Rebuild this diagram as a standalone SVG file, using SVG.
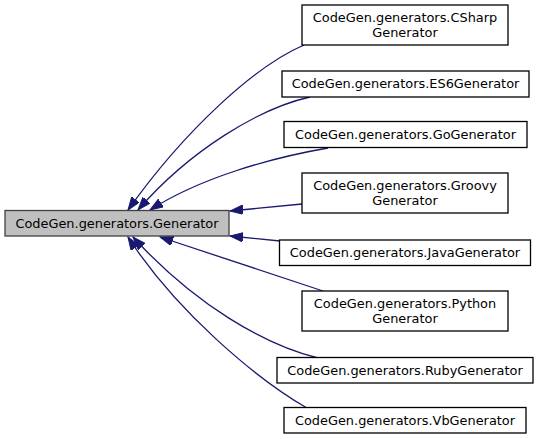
<svg xmlns="http://www.w3.org/2000/svg" width="539" height="439" viewBox="0 0 539 439">
<style>
.n rect{fill:#ffffff;stroke:#000000;stroke-width:1.3}
.n.cur rect{fill:#bfbfbf;stroke:#404040}
.n text{font-family:"DejaVu Sans","Liberation Sans",sans-serif;font-size:12.9px;fill:#000000;text-anchor:middle}
#edges path{fill:none;stroke:#191970;stroke-width:1.3}
</style>
<defs>
<marker id="ah" markerUnits="userSpaceOnUse" markerWidth="14" markerHeight="10" refX="13" refY="4.7" orient="auto">
<path d="M0,0 L13,4.7 L0,9.4 z" fill="#191970" stroke="#191970" stroke-width="1"/>
</marker>
</defs>
<rect width="539" height="439" fill="#ffffff"/>
<g id="edges">
<path d="M304,45 C255,66 185,130 128,210" marker-end="url(#ah)"/>
<path d="M310,97 C260,108 190,150 138,210" marker-end="url(#ah)"/>
<path d="M328,148 C270,158 200,178 150,210" marker-end="url(#ah)"/>
<path d="M302,204 L230,211" marker-end="url(#ah)"/>
<path d="M280,241 L230,236" marker-end="url(#ah)"/>
<path d="M323,291 L160,237" marker-end="url(#ah)"/>
<path d="M318,358 C265,345 195,305 133,237" marker-end="url(#ah)"/>
<path d="M307,408 C255,378 175,310 128,237" marker-end="url(#ah)"/>
</g>
<g id="node-generator" class="n cur"><rect x="5" y="210.5" width="224" height="25.5"/><text x="117" y="227.5">CodeGen.generators.Generator</text></g>
<g id="node-csharp" class="n"><rect x="302" y="5" width="206" height="40"/><text x="405" y="22">CodeGen.generators.CSharp</text><text x="405" y="37">Generator</text></g>
<g id="node-es6" class="n"><rect x="282" y="71" width="247" height="26"/><text x="405.5" y="88">CodeGen.generators.ES6Generator</text></g>
<g id="node-go" class="n"><rect x="284" y="121.5" width="243" height="26"/><text x="405.5" y="138.5">CodeGen.generators.GoGenerator</text></g>
<g id="node-groovy" class="n"><rect x="302" y="173" width="206" height="40"/><text x="405" y="190">CodeGen.generators.Groovy</text><text x="405" y="205">Generator</text></g>
<g id="node-java" class="n"><rect x="279.5" y="240" width="251" height="25.5"/><text x="405" y="257">CodeGen.generators.JavaGenerator</text></g>
<g id="node-python" class="n"><rect x="302" y="291" width="206" height="40"/><text x="405" y="308">CodeGen.generators.Python</text><text x="405" y="323">Generator</text></g>
<g id="node-ruby" class="n"><rect x="277" y="357.5" width="256" height="25.5"/><text x="405" y="374.5">CodeGen.generators.RubyGenerator</text></g>
<g id="node-vb" class="n"><rect x="284" y="407.5" width="242" height="25.5"/><text x="405" y="424.5">CodeGen.generators.VbGenerator</text></g>
</svg>
